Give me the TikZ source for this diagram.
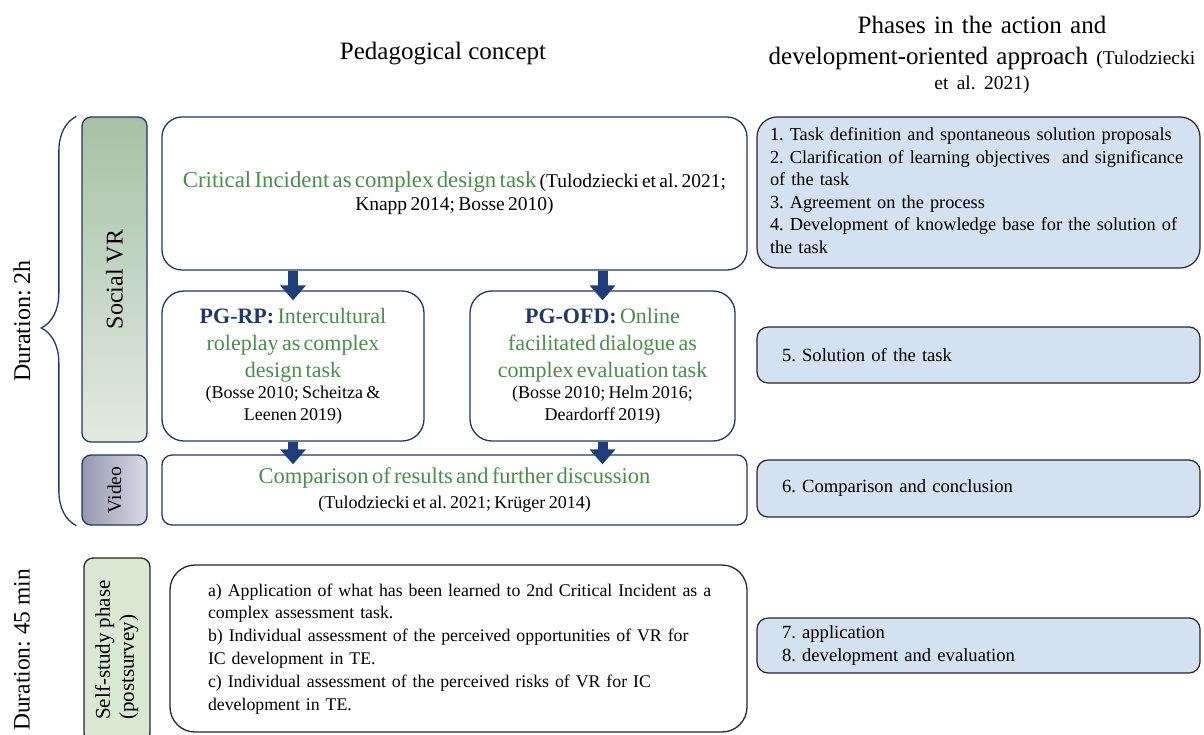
\documentclass[tikz,border=0pt]{standalone}
\usepackage{fontspec}
\setmainfont{Liberation Serif}
\usepackage{xcolor}
\definecolor{cNavy}{HTML}{1F3864}
\definecolor{cArrow}{HTML}{1F3D7A}
\definecolor{cGreen}{HTML}{4E8B4F}
\definecolor{cEdge}{HTML}{262626}
\definecolor{cPhase}{HTML}{D3E1F0}
\definecolor{cVRdark}{HTML}{A6C1A6}
\definecolor{cVRlight}{HTML}{E2EAE2}
\definecolor{cVidDark}{HTML}{9597B0}
\definecolor{cVidLight}{HTML}{DADBE4}
\definecolor{cSelf}{HTML}{D9E7D3}
\usepackage{tikz}
\usetikzlibrary{positioning,arrows.meta,decorations.pathreplacing}
\newcommand{\fsz}[2]{\fontsize{#1}{#2}\selectfont}
\newcommand{\linestack}[1]{\begin{tabular}{@{}l@{}}#1\end{tabular}}
\frenchspacing
\tikzset{
  head-text/.style={font=\fsz{25}{31},align=center},
  side-box/.style={draw=cNavy,line width=1.3pt,rounded corners=9pt,
    minimum width=65pt,inner sep=0pt},
  concept-box/.style={draw=cNavy,line width=1.3pt,fill=white,
    align=center,inner sep=0pt},
  task-box/.style={draw=cEdge,line width=1.3pt,fill=white,
    rounded corners=25pt,align=left,inner xsep=38pt,inner ysep=0pt},
  phase-box/.style={draw=cEdge,line width=1.2pt,fill=cPhase,
    rounded corners=11pt,inner xsep=25pt,inner ysep=0pt,
    text width=393pt,minimum width=443pt,align=left,font=\fsz{18.6}{22.6}},
  block-arrow/.style={draw=cArrow,line width=10pt,shorten >=-10pt,
    -{Triangle[length=15pt,width=25pt]}},
  brace-line/.style={draw=cNavy,line width=1.3pt,
    decorate,decoration={brace,amplitude=35pt,aspect=0.483}},
}

\begin{document}
\begin{tikzpicture}[x=1pt,y=-1pt]
  \useasboundingbox (0,0) rectangle (1204,734);
  % headings
  \node[head-text] (ped-head) at (443,54) {Pedagogical concept};
  \node[head-text,text width=440pt] (phase-head) at (982,55)
    {Phases in the action and\\development-oriented approach
     {\fsz{19.5}{31}(Tulodziecki}\\[-6pt]{\fsz{19.5}{25}et al. 2021)}};

  % left column
  \node[rotate=90,font=\fsz{24}{28}] (dur-vr) at (22,321) {Duration: 2h};
  \node[rotate=90,font=\fsz{23.5}{28}] (dur-self) at (22,650) {Duration: 45 min};
  \node[side-box,top color=cVRdark,bottom color=cVRlight,minimum height=325pt]
    (social-vr) at (114.5,279.5) {\rotatebox{90}{\fsz{24}{28}Social VR}};
  \node[side-box,left color=cVidDark,right color=cVidLight,minimum height=70pt]
    (video) at (114.5,490) {\rotatebox{90}{\fsz{19.5}{22}Video}};
  \node[side-box,draw=cEdge,fill=cSelf,minimum width=66pt,minimum height=184pt]
    (self-study) at (117,650) {\rotatebox{90}{\fsz{21}{24}%
      \linestack{Self-study phase\\(postsurvey)}}};
  \draw[brace-line] ([xshift=-5pt]video.south west)
    -- ([xshift=-5pt]social-vr.north west);

  % pedagogical concept
  \node[concept-box,rounded corners=20pt,minimum width=585pt,minimum height=153pt,
    text width=575pt] (incident) at (454.5,193.5)
    {\fsz{22.8}{23}\textcolor{cGreen}{Critical Incident as complex design task}
     {\fsz{19.5}{23}(Tulodziecki et al. 2021;\\Knapp 2014; Bosse 2010)}\par};
  \node[concept-box,rounded corners=22pt,minimum width=262pt,minimum height=150pt,
    text width=250pt] (pg-rp) at (293,366)
    {\fsz{22}{27}\textcolor{cNavy}{\bfseries PG-RP:} \textcolor{cGreen}{Intercultural\\
     roleplay as complex\\design task}\par
     \fsz{18}{21.5}(Bosse 2010; Scheitza \&\\Leenen 2019)\par};
  \node[concept-box,rounded corners=22pt,minimum width=265pt,minimum height=150pt,
    text width=255pt] (pg-ofd) at (602.5,366)
    {\fsz{22}{27}\textcolor{cNavy}{\bfseries PG-OFD:} \textcolor{cGreen}{Online\\
     facilitated dialogue as\\complex evaluation task}\par
     \fsz{18}{21.5}(Bosse 2010; Helm 2016;\\Deardorff 2019)\par};
  \node[concept-box,rounded corners=10pt,minimum width=585pt,minimum height=70pt,
    text width=565pt] (compare) at (454.5,490)
    {\fsz{22.5}{24}\textcolor{cGreen}{Comparison of results and further discussion}\par
     \fsz{18}{25}(Tulodziecki et al. 2021; Krüger 2014)\par};
  \node[task-box,minimum width=577pt,minimum height=167pt,text width=501pt,
    font=\fsz{17.8}{22.8}] (transfer) at (458.5,648.5)
    {\linestack{a) Application of what has been learned to 2nd Critical Incident as a\\
     complex assessment task.\\
     b) Individual assessment of the perceived opportunities of VR for\\
     IC development in TE.\\
     c) Individual assessment of the perceived risks of VR for IC\\
     development in TE.}};

  \foreach \pg in {pg-rp,pg-ofd} {
    \draw[block-arrow] (\pg.north |- incident.south) -- (\pg.north);
    \draw[block-arrow] (\pg.south) -- (\pg.south |- compare.north);
  }

  % phases
  \node[phase-box,rounded corners=20pt,inner xsep=13pt,text width=417pt,
    minimum height=151pt,font=\fsz{18.3}{22.6}] (phase-a) at (978.5,192.5)
    {\linestack{1. Task definition and spontaneous solution proposals\\
     2. Clarification of learning objectives\ \ and significance\\
     of the task\\
     3. Agreement on the process\\
     4. Development of knowledge base for the solution of\\
     the task}};
  \node[phase-box,minimum height=56pt] (phase-b) at (978.5,355)
    {5. Solution of the task};
  \node[phase-box,minimum height=57pt] (phase-c) at (978.5,488.5)
    {6. Comparison and conclusion};
  \node[phase-box,minimum height=55pt] (phase-d) at (978.5,645.5)
    {\linestack{7. application\\8. development and evaluation}};
\end{tikzpicture}
\end{document}
